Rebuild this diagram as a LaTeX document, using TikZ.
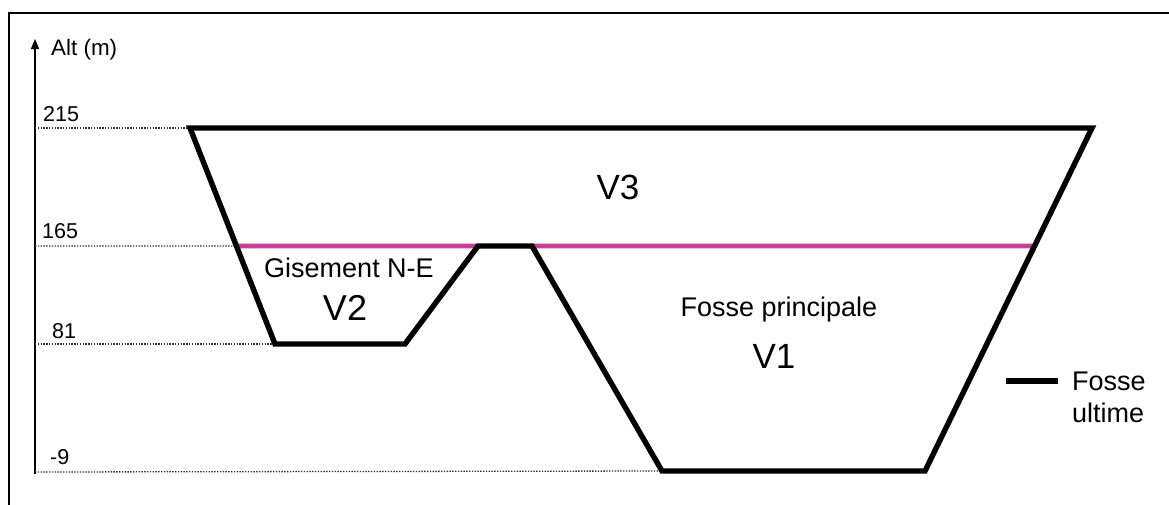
\documentclass[tikz,border=0pt]{standalone}
\usepackage{fontspec}
\setmainfont{Liberation Sans}
\usepackage{xcolor}
\usepackage{tikz}
\usetikzlibrary{arrows.meta,calc}
\definecolor{levelpink}{RGB}{200,64,150}
\tikzset{
  pitline/.style={line width=5.4pt,line join=miter},
  levelline/.style={levelpink,line width=4.6pt},
  dotline/.style={line width=1.3pt,black!80,dash pattern=on 1.4pt off 1.4pt},
  altlbl/.style={anchor=base west,inner sep=0pt,font=\fontsize{21.5}{24}\selectfont},
  midlbl/.style={anchor=base,inner sep=0pt,font=\fontsize{27}{32}\selectfont},
  biglbl/.style={anchor=base,inner sep=0pt,font=\fontsize{35}{40}\selectfont}
}
\begin{document}
\begin{tikzpicture}[x=1pt,y=-1pt]
\useasboundingbox (0,0) rectangle (1169,504);
\begin{scope}
\clip (0,0) rectangle (1169,504);
\draw[line width=2pt] (9,13) rectangle (1185,520);
\end{scope}
% pit corners
\coordinate (A) at (190,128); \coordinate (B) at (1092,128);
\coordinate (C) at (925,471); \coordinate (D) at (662,471);
\coordinate (E) at (532,246); \coordinate (F) at (478,246);
\coordinate (G) at (405,344); \coordinate (H) at (275,344);
\coordinate (L165) at ($(A)!{118/216}!(H)$);
\coordinate (R165) at ($(B)!{118/343}!(C)$);
% axis
\coordinate (ax0) at (35,474); \coordinate (ax1) at (35,39);
\draw[line width=1.5pt,-{Triangle[length=10pt,width=8pt]}] (ax0)--(ax1);
\node[altlbl,font=\fontsize{22.4}{26}\selectfont] (alt) at (51,55) {Alt (m)};
% altitude levels
\draw[dotline] (35,128)--(A); \node[altlbl] (n215) at (43,121) {215};
\draw[dotline] (35,246)--(L165); \node[altlbl] (n165) at (42,238) {165};
\draw[dotline] (35,344)--(H); \node[altlbl] (n81) at (52,338) {81};
\draw[dotline] (35,472)--(D); \node[altlbl] (n9) at (50,464) {-9};
% level 165
\draw[levelline] (L165)--(F); \draw[levelline] (E)--(R165);
% ultimate pit
\draw[pitline] (A)--(B)--(C)--(D)--(E)--(F)--(G)--(H)--cycle;
\node[biglbl] (v3) at (618,199) {V3};
\node[midlbl] (gis) at (349,277) {Gisement N-E};
\node[biglbl,font=\fontsize{36}{40}\selectfont] (v2) at (345,320) {V2};
\node[midlbl] (fp) at (779,316) {Fosse principale};
\node[biglbl] (v1) at (774,368) {V1};
% legend
\coordinate (lg0) at (1006,381); \coordinate (lg1) at (1058,381);
\draw[pitline] (lg0)--(lg1);
\node[anchor=base west,inner sep=0pt,align=left,font=\fontsize{27}{32}\selectfont] (lgt) at (1072,422) {Fosse\\ultime};
\end{tikzpicture}
\end{document}
